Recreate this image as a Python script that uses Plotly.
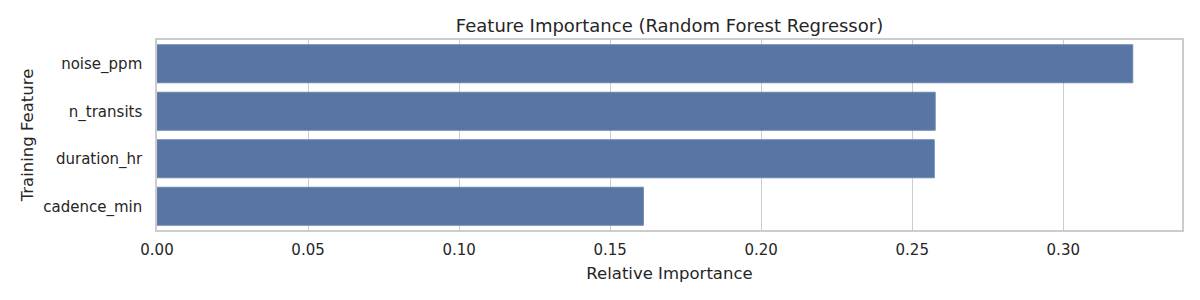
import plotly.graph_objects as go

features = ["noise_ppm", "n_transits", "duration_hr", "cadence_min"]
importance = [0.3230, 0.2576, 0.2573, 0.1610]
x_ticks = [0.00, 0.05, 0.10, 0.15, 0.20, 0.25, 0.30]
x_tick_labels = ["0.00", "0.05", "0.10", "0.15", "0.20", "0.25", "0.30"]

font_family = "DejaVu Sans"
text_color = "#262626"
grid_color = "#cccccc"

# page body has an 8px margin; size the figure so the plot lands where the reference has it
W, H, OFF = 1192, 292, 8

fig = go.Figure(
    go.Bar(
        x=importance,
        y=features,
        orientation="h",
        width=0.8,
        marker=dict(color="#5875a4", line=dict(color="#6a86b3", width=1)),
        hoverinfo="x+y",
    )
)

fig.update_layout(
    width=W,
    height=H,
    margin=dict(l=157 - OFF, r=W + OFF - 1182, t=40 - OFF, b=H + OFF - 230),
    paper_bgcolor="white",
    plot_bgcolor="white",
    font=dict(family=font_family, color=text_color, size=15),
    title=dict(
        text="Feature Importance (Random Forest Regressor)",
        x=((157 + 1182) / 2 - OFF) / W,
        xanchor="center",
        y=1 - (26 - OFF) / H,
        yanchor="middle",
        font=dict(size=18, family=font_family, color=text_color),
    ),
    showlegend=False,
    bargap=0.2,
)

fig.update_xaxes(
    range=[0, 0.3393],
    tickvals=x_ticks,
    ticktext=x_tick_labels,
    showgrid=True,
    gridcolor=grid_color,
    gridwidth=1,
    zeroline=False,
    showline=True,
    linecolor=grid_color,
    linewidth=1.5,
    mirror=True,
    ticks="outside",
    ticklen=5,
    tickcolor="rgba(0,0,0,0)",
    tickfont=dict(size=15),
    automargin=False,
    title=dict(text="Relative Importance", font=dict(size=16.5), standoff=10),
)

fig.update_yaxes(
    categoryorder="array",
    categoryarray=features,
    autorange="reversed",
    showgrid=False,
    zeroline=False,
    showline=True,
    linecolor=grid_color,
    linewidth=1.5,
    mirror=True,
    ticks="outside",
    ticklen=10,
    tickcolor="rgba(0,0,0,0)",
    tickfont=dict(size=15),
    automargin=False,
    title=dict(text="Training Feature", font=dict(size=16.5), standoff=6),
)

fig.write_html("out.html")
